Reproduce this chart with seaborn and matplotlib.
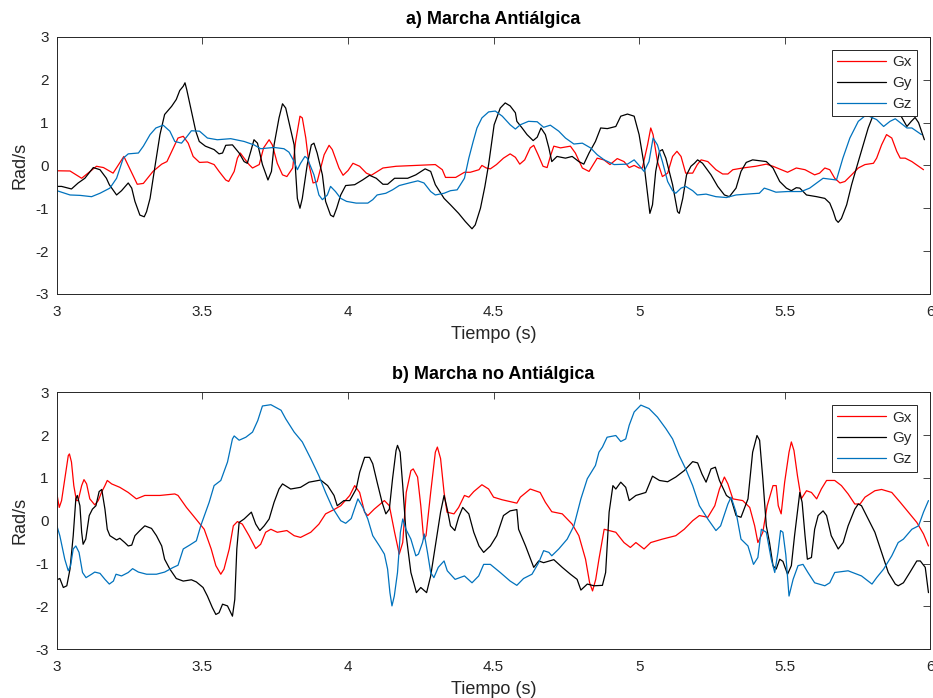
import matplotlib
matplotlib.use("Agg")
import matplotlib.pyplot as plt
import seaborn as sns

# ---- a) Marcha Antiálgica ----
a_gx_t = [3.000, 3.045, 3.085, 3.136, 3.160, 3.193, 3.230, 3.276, 3.297, 3.330, 3.360, 3.378, 3.416, 3.434,
          3.451, 3.468, 3.490, 3.517, 3.540, 3.557, 3.580, 3.590, 3.609, 3.620, 3.630, 3.643, 3.660, 3.672,
          3.695, 3.710, 3.729, 3.740, 3.757, 3.775, 3.790, 3.810, 3.820, 3.835, 3.843, 3.855, 3.866, 3.880,
          3.894, 3.918, 3.935, 3.946, 3.969, 3.983, 4.000, 4.017, 4.040, 4.063, 4.080, 4.120, 4.165, 4.233,
          4.300, 4.324, 4.335, 4.370, 4.400, 4.420, 4.450, 4.460, 4.475, 4.489, 4.510, 4.534, 4.557, 4.575,
          4.590, 4.607, 4.626, 4.638, 4.653, 4.670, 4.684, 4.695, 4.707, 4.730, 4.764, 4.781, 4.805, 4.828,
          4.839, 4.856, 4.879, 4.900, 4.925, 4.948, 4.966, 4.983, 5.000, 5.011, 5.029, 5.040, 5.048, 5.063,
          5.080, 5.098, 5.115, 5.130, 5.144, 5.160, 5.184, 5.200, 5.213, 5.236, 5.264, 5.287, 5.305, 5.322,
          5.356, 5.400, 5.437, 5.460, 5.489, 5.510, 5.540, 5.570, 5.603, 5.620, 5.638, 5.655, 5.672, 5.690,
          5.707, 5.730, 5.753, 5.776, 5.805, 5.816, 5.833, 5.850, 5.868, 5.885, 5.897, 5.914, 5.937, 5.977]
a_gx = [-0.125, -0.13, -0.30, -0.02, -0.05, -0.18, 0.21, -0.44, -0.42, -0.14, 0.03, 0.09, 0.64, 0.68,
        0.52, 0.21, 0.07, 0.08, 0.02, -0.14, -0.34, -0.375, -0.14, 0.17, 0.29, 0.17, 0.02, -0.06,
        0.02, 0.41, 0.60, 0.48, 0.05, -0.22, -0.26, -0.06, 0.56, 1.15, 1.11, 0.64, 0.02, -0.41,
        -0.38, 0.25, 0.47, 0.37, -0.06, -0.23, -0.12, 0.05, -0.02, -0.18, -0.23, -0.06, -0.02, 0.00,
        0.02, -0.10, -0.28, -0.28, -0.16, -0.16, -0.10, 0.00, -0.06, -0.08, 0.02, 0.17, 0.27, 0.19,
        0.03, 0.13, 0.41, 0.47, 0.25, -0.02, -0.05, 0.21, 0.45, 0.41, 0.45, 0.29, -0.06, -0.14,
        -0.02, 0.17, 0.13, 0.02, 0.16, 0.09, -0.05, 0.00, -0.06, -0.06, 0.48, 0.875, 0.72, 0.09,
        -0.26, -0.18, 0.21, 0.33, 0.21, -0.18, -0.18, 0.02, 0.13, 0.09, -0.10, -0.20, -0.20, -0.10,
        -0.06, -0.02, 0.03, -0.02, -0.10, -0.16, -0.06, -0.10, -0.22, -0.18, -0.06, -0.10, -0.30, -0.41,
        -0.375, -0.22, -0.06, 0.02, 0.05, 0.17, 0.48, 0.72, 0.64, 0.33, 0.17, 0.17, 0.09, -0.10]

a_gy_t = [3.000, 3.016, 3.050, 3.073, 3.096, 3.125, 3.148, 3.170, 3.180, 3.205, 3.222, 3.245, 3.257, 3.268,
          3.285, 3.300, 3.308, 3.320, 3.336, 3.354, 3.370, 3.394, 3.410, 3.422, 3.434, 3.440, 3.446, 3.462,
          3.477, 3.489, 3.510, 3.540, 3.557, 3.569, 3.580, 3.603, 3.626, 3.643, 3.654, 3.666, 3.677, 3.689,
          3.706, 3.725, 3.737, 3.746, 3.763, 3.775, 3.786, 3.803, 3.815, 3.820, 3.826, 3.835, 3.843, 3.860,
          3.874, 3.883, 3.894, 3.912, 3.923, 3.940, 3.950, 3.961, 3.975, 3.992, 4.023, 4.050, 4.074, 4.097,
          4.120, 4.136, 4.160, 4.205, 4.233, 4.265, 4.284, 4.300, 4.330, 4.352, 4.380, 4.403, 4.426, 4.437,
          4.455, 4.470, 4.483, 4.502, 4.523, 4.540, 4.557, 4.575, 4.580, 4.598, 4.615, 4.636, 4.650, 4.663,
          4.678, 4.690, 4.700, 4.718, 4.747, 4.770, 4.793, 4.810, 4.828, 4.850, 4.868, 4.891, 4.920, 4.937,
          4.960, 4.983, 5.000, 5.017, 5.037, 5.046, 5.057, 5.070, 5.080, 5.092, 5.115, 5.132, 5.138, 5.150,
          5.163, 5.178, 5.190, 5.201, 5.218, 5.247, 5.270, 5.293, 5.310, 5.333, 5.350, 5.368, 5.390, 5.437,
          5.460, 5.483, 5.506, 5.523, 5.540, 5.552, 5.575, 5.610, 5.638, 5.655, 5.667, 5.676, 5.684, 5.695,
          5.713, 5.730, 5.750, 5.770, 5.787, 5.805, 5.830, 5.870, 5.900, 5.920, 5.935, 5.948, 5.960, 5.980]
a_gy = [-0.49, -0.49, -0.55, -0.41, -0.30, -0.05, -0.10, -0.30, -0.45, -0.69, -0.59, -0.41, -0.53, -0.84,
        -1.16, -1.20, -1.08, -0.77, -0.06, 0.72, 1.19, 1.38, 1.54, 1.75, 1.85, 1.93, 1.77, 1.27,
        0.80, 0.56, 0.45, 0.37, 0.27, 0.29, 0.47, 0.48, 0.29, 0.09, 0.05, 0.33, 0.60, 0.52,
        0.02, -0.34, -0.14, 0.48, 1.11, 1.44, 1.34, 0.84, 0.48, -0.14, -0.77, -1.00, -0.77, 0.02,
        0.48, 0.52, 0.29, -0.22, -0.84, -1.16, -1.20, -1.00, -0.69, -0.47, -0.45, -0.34, -0.23, -0.30,
        -0.44, -0.44, -0.30, -0.30, -0.22, -0.08, -0.14, -0.45, -0.77, -0.92, -1.12, -1.31, -1.48, -1.39,
        -1.00, -0.50, 0.02, 0.95, 1.34, 1.46, 1.39, 1.23, 1.03, 0.875, 0.72, 0.58, 0.66, 0.875,
        0.72, 0.41, 0.09, 0.21, 0.17, 0.21, 0.09, 0.03, 0.29, 0.56, 0.875, 0.86, 0.91, 1.15,
        1.20, 1.15, 0.72, 0.02, -1.12, -0.92, -0.14, 0.33, 0.37, 0.17, -0.45, -1.08, -1.12, -0.77,
        -0.22, -0.02, 0.05, 0.13, 0.05, -0.22, -0.49, -0.69, -0.73, -0.53, -0.14, 0.07, 0.13, 0.09,
        -0.06, -0.375, -0.53, -0.59, -0.52, -0.53, -0.69, -0.73, -0.77, -0.88, -1.08, -1.27, -1.33, -1.24,
        -0.92, -0.45, 0.02, 0.48, 0.875, 1.19, 1.35, 1.30, 1.15, 0.91, 1.03, 1.12, 1.00, 0.60]

a_gz_t = [3.000, 3.045, 3.080, 3.119, 3.148, 3.182, 3.205, 3.228, 3.245, 3.280, 3.297, 3.320, 3.340, 3.365,
          3.388, 3.405, 3.428, 3.445, 3.462, 3.490, 3.517, 3.551, 3.597, 3.643, 3.677, 3.700, 3.746, 3.780,
          3.797, 3.815, 3.826, 3.837, 3.852, 3.860, 3.883, 3.900, 3.912, 3.929, 3.940, 3.957, 3.975, 3.995,
          4.028, 4.068, 4.085, 4.100, 4.130, 4.153, 4.176, 4.210, 4.240, 4.261, 4.284, 4.300, 4.330, 4.352,
          4.375, 4.400, 4.415, 4.430, 4.443, 4.460, 4.483, 4.506, 4.530, 4.557, 4.575, 4.592, 4.620, 4.650,
          4.672, 4.695, 4.724, 4.747, 4.776, 4.805, 4.833, 4.856, 4.880, 4.914, 4.960, 4.983, 5.000, 5.017,
          5.034, 5.048, 5.063, 5.080, 5.098, 5.115, 5.126, 5.144, 5.160, 5.184, 5.200, 5.230, 5.264, 5.300,
          5.333, 5.390, 5.413, 5.430, 5.448, 5.470, 5.510, 5.557, 5.586, 5.610, 5.632, 5.678, 5.700, 5.724,
          5.753, 5.780, 5.816, 5.840, 5.862, 5.880, 5.920, 5.937, 5.970]
a_gz = [-0.59, -0.69, -0.70, -0.73, -0.65, -0.53, -0.30, 0.17, 0.27, 0.29, 0.45, 0.72, 0.875, 0.94,
        0.80, 0.56, 0.52, 0.66, 0.81, 0.80, 0.64, 0.60, 0.625, 0.56, 0.48, 0.39, 0.42, 0.39,
        0.31, 0.09, -0.10, 0.05, 0.21, 0.17, -0.22, -0.69, -0.80, -0.69, -0.49, -0.61, -0.77, -0.84,
        -0.88, -0.88, -0.80, -0.69, -0.65, -0.57, -0.47, -0.41, -0.36, -0.41, -0.61, -0.69, -0.65, -0.59,
        -0.57, -0.30, 0.17, 0.56, 0.875, 1.11, 1.25, 1.27, 1.15, 0.95, 0.85, 0.95, 1.03, 1.02,
        0.89, 0.94, 0.80, 0.64, 0.50, 0.52, 0.41, 0.25, 0.13, 0.02, 0.03, 0.13, 0.00, -0.14,
        0.09, 0.64, 0.48, 0.09, -0.375, -0.59, -0.65, -0.53, -0.49, -0.59, -0.69, -0.67, -0.73, -0.75,
        -0.69, -0.66, -0.65, -0.53, -0.57, -0.625, -0.61, -0.61, -0.53, -0.41, -0.30, -0.34, 0.17, 0.64,
        1.03, 1.18, 1.07, 0.91, 1.03, 1.09, 0.875, 0.875, 0.72]

# ---- b) Marcha no Antiálgica ----
b_gx_t = [3.000, 3.008, 3.016, 3.027, 3.039, 3.043, 3.050, 3.058, 3.067, 3.073, 3.085, 3.093, 3.102, 3.113,
          3.130, 3.142, 3.153, 3.165, 3.173, 3.188, 3.216, 3.245, 3.273, 3.302, 3.354, 3.405, 3.416, 3.445,
          3.468, 3.506, 3.530, 3.546, 3.563, 3.574, 3.592, 3.606, 3.620, 3.637, 3.660, 3.683, 3.700, 3.717,
          3.735, 3.757, 3.790, 3.815, 3.837, 3.872, 3.900, 3.923, 3.952, 3.975, 4.006, 4.023, 4.040, 4.057,
          4.068, 4.090, 4.125, 4.142, 4.160, 4.176, 4.188, 4.200, 4.216, 4.224, 4.239, 4.250, 4.260, 4.268,
          4.284, 4.300, 4.307, 4.318, 4.330, 4.340, 4.364, 4.380, 4.400, 4.415, 4.432, 4.460, 4.483, 4.500,
          4.529, 4.580, 4.592, 4.626, 4.660, 4.678, 4.700, 4.736, 4.770, 4.793, 4.816, 4.830, 4.840, 4.851,
          4.862, 4.880, 4.920, 4.948, 4.970, 4.989, 5.017, 5.040, 5.080, 5.126, 5.155, 5.184, 5.207, 5.236,
          5.260, 5.276, 5.293, 5.305, 5.322, 5.356, 5.380, 5.397, 5.408, 5.425, 5.440, 5.460, 5.471, 5.478,
          5.488, 5.500, 5.515, 5.523, 5.532, 5.544, 5.557, 5.575, 5.592, 5.610, 5.626, 5.644, 5.672, 5.695,
          5.718, 5.741, 5.759, 5.776, 5.810, 5.833, 5.868, 5.897, 5.925, 5.954, 5.977, 5.994]
b_gx = [0.625, 0.31, 0.47, 0.98, 1.52, 1.56, 1.37, 0.82, 0.47, 0.47, 0.82, 0.96, 0.86, 0.51,
        0.37, 0.47, 0.66, 0.82, 0.94, 0.86, 0.78, 0.66, 0.51, 0.59, 0.59, 0.625, 0.59, 0.31,
        0.12, -0.20, -0.66, -1.05, -1.25, -1.13, -0.66, -0.12, -0.02, -0.08, -0.35, -0.65, -0.55, -0.27,
        -0.20, -0.27, -0.23, -0.35, -0.39, -0.27, -0.08, 0.16, 0.26, 0.35, 0.59, 0.82, 0.66, 0.20,
        0.12, 0.27, 0.47, 0.35, -0.27, -0.78, -0.51, 0.66, 1.17, 1.21, 1.02, 0.35, -0.43, -0.35,
        0.66, 1.60, 1.72, 1.45, 0.66, 0.20, 0.16, 0.31, 0.59, 0.55, 0.68, 0.84, 0.74, 0.55,
        0.49, 0.41, 0.55, 0.74, 0.66, 0.43, 0.21, 0.16, -0.08, -0.35, -0.90, -1.45, -1.64, -1.37,
        -0.90, -0.20, -0.27, -0.51, -0.625, -0.51, -0.66, -0.51, -0.43, -0.35, -0.20, 0.00, 0.12, 0.08,
        0.35, 0.74, 1.02, 0.86, 0.51, 0.47, 0.31, -0.12, -0.51, -0.27, 0.35, 0.82, 0.82, 0.35,
        0.16, 0.90, 1.60, 1.84, 1.64, 1.05, 0.51, 0.70, 0.66, 0.51, 0.74, 0.94, 0.94, 0.82,
        0.625, 0.39, 0.39, 0.55, 0.70, 0.73, 0.66, 0.43, 0.20, -0.04, -0.31, -0.59]

b_gy_t = [3.000, 3.010, 3.022, 3.034, 3.045, 3.056, 3.065, 3.070, 3.079, 3.085, 3.090, 3.099, 3.111, 3.122,
          3.134, 3.145, 3.154, 3.165, 3.173, 3.182, 3.205, 3.216, 3.233, 3.245, 3.257, 3.268, 3.285, 3.302,
          3.325, 3.342, 3.360, 3.370, 3.388, 3.410, 3.434, 3.462, 3.479, 3.502, 3.517, 3.534, 3.546, 3.557,
          3.569, 3.586, 3.603, 3.611, 3.618, 3.626, 3.643, 3.668, 3.683, 3.697, 3.712, 3.729, 3.746, 3.763,
          3.775, 3.803, 3.837, 3.866, 3.906, 3.930, 3.952, 3.963, 3.986, 4.006, 4.028, 4.040, 4.057, 4.074,
          4.085, 4.100, 4.117, 4.130, 4.142, 4.153, 4.165, 4.170, 4.179, 4.188, 4.200, 4.216, 4.235, 4.250,
          4.270, 4.284, 4.300, 4.318, 4.330, 4.341, 4.352, 4.367, 4.380, 4.394, 4.415, 4.432, 4.450, 4.466,
          4.489, 4.511, 4.534, 4.557, 4.580, 4.586, 4.610, 4.638, 4.655, 4.672, 4.707, 4.736, 4.764, 4.787,
          4.800, 4.822, 4.845, 4.874, 4.885, 4.897, 4.910, 4.920, 4.937, 4.954, 4.966, 4.989, 5.023, 5.046,
          5.070, 5.098, 5.126, 5.155, 5.184, 5.201, 5.216, 5.230, 5.247, 5.262, 5.276, 5.300, 5.316, 5.333,
          5.350, 5.374, 5.390, 5.405, 5.414, 5.425, 5.437, 5.448, 5.460, 5.471, 5.483, 5.494, 5.510, 5.523,
          5.534, 5.552, 5.560, 5.570, 5.578, 5.592, 5.603, 5.615, 5.632, 5.644, 5.660, 5.684, 5.701, 5.718,
          5.741, 5.753, 5.764, 5.787, 5.810, 5.833, 5.856, 5.880, 5.890, 5.908, 5.930, 5.954, 5.966, 5.983,
          5.994]
b_gy = [-1.38, -1.35, -1.56, -1.52, -1.13, -0.35, 0.51, 0.59, 0.35, -0.27, -0.55, -0.43, 0.12, 0.27,
        0.35, 0.68, 0.73, 0.27, -0.20, -0.35, -0.45, -0.41, -0.51, -0.59, -0.57, -0.35, -0.23, -0.12,
        -0.18, -0.35, -0.59, -0.90, -1.13, -1.35, -1.41, -1.38, -1.43, -1.56, -1.76, -2.03, -2.19, -2.15,
        -1.95, -1.99, -2.23, -1.84, -0.66, -0.04, 0.04, 0.20, -0.08, -0.23, -0.12, 0.04, 0.43, 0.74,
        0.86, 0.74, 0.78, 0.90, 0.95, 0.82, 0.59, 0.35, 0.47, 0.47, 0.74, 1.13, 1.48, 1.48,
        1.33, 0.90, 0.43, 0.16, 0.27, 0.98, 1.64, 1.76, 1.60, 0.82, -0.35, -1.21, -1.68, -1.56,
        -1.68, -1.29, -0.59, 0.20, 0.59, 0.27, -0.12, -0.23, 0.08, 0.31, 0.16, -0.27, -0.59, -0.74,
        -0.59, -0.35, 0.12, 0.23, 0.26, -0.20, -0.59, -1.09, -0.94, -0.98, -0.91, -1.09, -1.25, -1.37,
        -1.62, -1.48, -1.52, -1.51, -1.21, 0.20, 0.82, 0.74, 0.90, 0.78, 0.47, 0.59, 0.66, 1.04,
        0.94, 0.91, 1.02, 1.17, 1.38, 1.35, 1.09, 0.90, 1.21, 1.25, 0.94, 0.59, 0.51, 0.12,
        0.08, 0.51, 1.60, 1.99, 1.88, 0.98, -0.12, -0.51, -1.05, -1.13, -0.90, -0.95, -1.25, -1.05,
        -0.35, 0.66, 0.43, -0.35, -0.90, -0.86, -0.20, 0.12, 0.23, 0.12, -0.35, -0.66, -0.51, -0.12,
        0.27, 0.39, 0.35, 0.04, -0.27, -0.74, -1.21, -1.48, -1.52, -1.45, -1.21, -0.94, -0.94, -1.09,
        -1.68]

b_gz_t = [3.000, 3.010, 3.027, 3.039, 3.047, 3.056, 3.065, 3.076, 3.088, 3.100, 3.119, 3.130, 3.148, 3.165,
          3.180, 3.194, 3.203, 3.222, 3.245, 3.260, 3.280, 3.308, 3.342, 3.370, 3.400, 3.416, 3.434, 3.456,
          3.479, 3.494, 3.523, 3.540, 3.563, 3.586, 3.603, 3.609, 3.626, 3.649, 3.672, 3.690, 3.706, 3.735,
          3.770, 3.786, 3.815, 3.843, 3.872, 3.900, 3.923, 3.946, 3.975, 3.992, 4.011, 4.034, 4.051, 4.068,
          4.085, 4.108, 4.125, 4.136, 4.144, 4.151, 4.159, 4.170, 4.180, 4.188, 4.199, 4.216, 4.233, 4.242,
          4.256, 4.262, 4.273, 4.284, 4.295, 4.310, 4.330, 4.341, 4.368, 4.400, 4.426, 4.449, 4.466, 4.489,
          4.523, 4.557, 4.580, 4.603, 4.632, 4.655, 4.672, 4.690, 4.700, 4.724, 4.753, 4.776, 4.800, 4.822,
          4.850, 4.862, 4.874, 4.890, 4.920, 4.937, 4.954, 4.966, 4.983, 5.006, 5.034, 5.063, 5.092, 5.115,
          5.138, 5.160, 5.184, 5.207, 5.236, 5.264, 5.280, 5.305, 5.316, 5.333, 5.350, 5.374, 5.393, 5.408,
          5.420, 5.437, 5.454, 5.466, 5.477, 5.486, 5.494, 5.504, 5.515, 5.529, 5.546, 5.563, 5.580, 5.603,
          5.638, 5.655, 5.672, 5.718, 5.764, 5.800, 5.816, 5.840, 5.868, 5.890, 5.908, 5.937, 5.960, 5.977,
          5.994]
b_gz = [-0.12, -0.35, -0.90, -1.17, -1.05, -0.66, -0.59, -0.74, -1.21, -1.33, -1.25, -1.20, -1.23, -1.37,
        -1.48, -1.41, -1.25, -1.29, -1.21, -1.12, -1.20, -1.25, -1.25, -1.20, -1.09, -1.04, -0.66, -0.57,
        -0.47, -0.12, 0.43, 0.82, 0.94, 1.37, 1.91, 1.98, 1.88, 1.95, 2.07, 2.34, 2.68, 2.71,
        2.58, 2.38, 2.07, 1.84, 1.45, 1.05, 0.66, 0.31, 0.00, -0.06, 0.05, 0.51, 0.31, 0.04,
        -0.35, -0.59, -0.78, -1.13, -1.68, -1.99, -1.76, -1.21, -0.27, 0.04, -0.20, -0.43, -0.82, -0.78,
        -0.51, -0.31, -0.74, -1.21, -1.33, -1.09, -0.94, -1.17, -1.37, -1.29, -1.45, -1.29, -1.02, -1.02,
        -1.21, -1.41, -1.51, -1.35, -1.25, -0.98, -0.70, -0.74, -0.82, -0.66, -0.43, -0.12, 0.51, 0.98,
        1.29, 1.60, 1.72, 1.95, 1.99, 1.85, 1.91, 2.23, 2.54, 2.70, 2.62, 2.42, 2.15, 1.91,
        1.52, 1.21, 0.82, 0.35, 0.04, -0.23, -0.12, 0.39, 0.55, 0.20, -0.43, -0.59, -1.02, -0.86,
        -0.20, -0.27, -0.90, -1.21, -0.74, -0.23, -0.27, -0.80, -1.76, -1.37, -1.05, -1.02, -1.21, -1.45,
        -1.52, -1.45, -1.21, -1.17, -1.29, -1.48, -1.33, -1.13, -0.82, -0.51, -0.43, -0.20, -0.12, 0.20,
        0.47]

titles = ["a) Marcha Antiálgica", "b) Marcha no Antiálgica"]
series_names = ["Gx", "Gy", "Gz"]
colors = ["#ff0000", "#000000", "#0072bd"]
panels = [
    [(a_gx_t, a_gx), (a_gy_t, a_gy), (a_gz_t, a_gz)],
    [(b_gx_t, b_gx), (b_gy_t, b_gy), (b_gz_t, b_gz)],
]

sns.set_style("white")
plt.rcParams["font.family"] = ["Liberation Sans", "DejaVu Sans"]
plt.rcParams["axes.unicode_minus"] = False
axis_col = "#262626"

fig = plt.figure(figsize=(9.33, 6.98), dpi=100)
ax_a = fig.add_axes([0.061, 0.579, 0.936, 0.368])
ax_b = fig.add_axes([0.061, 0.070, 0.936, 0.368])

for ax, title, series in zip([ax_a, ax_b], titles, panels):
    for (t, v), name, col in zip(series, series_names, colors):
        sns.lineplot(x=t, y=v, ax=ax, color=col, label=name, linewidth=0.9,
                     sort=False, estimator=None)
    ax.set_xlim(3, 6)
    ax.set_ylim(-3, 3)
    ax.set_xticks([3, 3.5, 4, 4.5, 5, 5.5, 6])
    ax.set_xticklabels(["3", "3.5", "4", "4.5", "5", "5.5", "6"])
    ax.set_yticks([-3, -2, -1, 0, 1, 2, 3])
    ax.tick_params(direction="in", top=True, right=True, length=5, width=0.6,
                   labelsize=11, colors=axis_col)
    ax.tick_params(axis="x", pad=8)
    ax.tick_params(axis="y", pad=6)
    for s in ax.spines.values():
        s.set_visible(True)
        s.set_color(axis_col)
        s.set_linewidth(0.7)
    ax.set_title(title, fontsize=13, fontweight="bold", color="black", pad=9.5)
    ax.set_xlabel("Tiempo (s)", fontsize=13, color=axis_col, labelpad=5)
    ax.set_ylabel("Rad/s", fontsize=13, color=axis_col, labelpad=5)
    leg = ax.legend(loc="upper right", frameon=True, fancybox=False, framealpha=1,
                    edgecolor=axis_col, fontsize=11, handlelength=3.2, handletextpad=0.4,
                    borderaxespad=0.85, borderpad=0.35, labelspacing=0.45)
    leg.get_frame().set_linewidth(0.7)

fig.savefig("out.png", dpi=100)
